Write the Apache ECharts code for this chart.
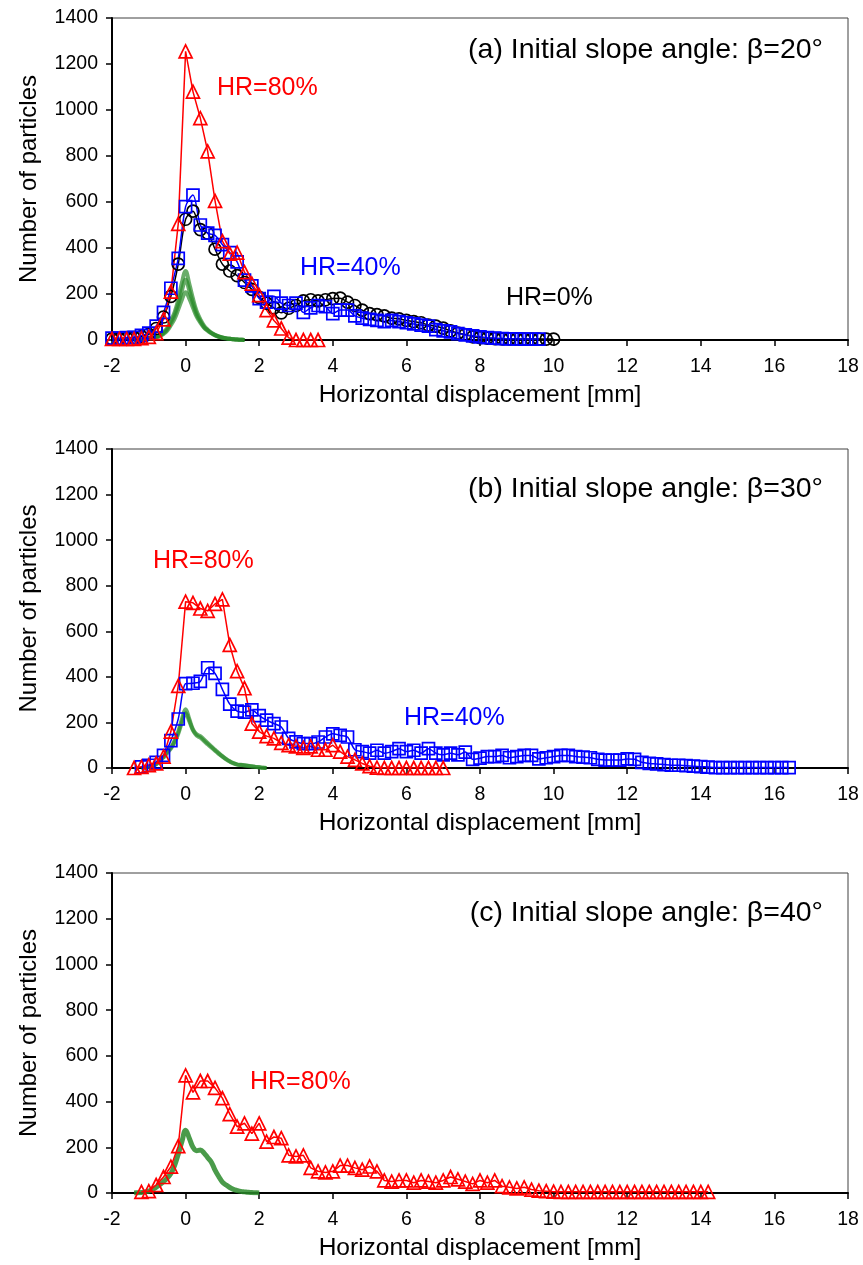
<!DOCTYPE html>
<html><head><meta charset="utf-8">
<script src="https://cdn.jsdelivr.net/npm/echarts@6/dist/echarts.min.js"></script>
<style>html,body{margin:0;padding:0;background:#fff}#c{width:863px;height:1265px}</style>
</head><body><div id="c"></div>
<script>
// ---------- data ----------
const X_MIN = -2, X_MAX = 18, X_INT = 2;
const Y_MIN = 0, Y_MAX = 1400, Y_INT = 200;
const STEP = 0.2;      // marker series spacing [mm]
const GSTEP = 0.1;     // green (simulation) curves spacing [mm]

// (a) beta = 20°
const a_hr80_x0 = -2.0;
const a_hr80 = [5,5,5,5,8,14,30,90,210,505,1255,1080,965,820,605,430,375,380,295,245,195,130,85,50,10,0,0,0,0];
const a_hr40_x0 = -2.0;
const a_hr40 = [8,8,10,12,20,30, 60,120,225,355,580,630, 500,465,455,415,380,340, 260,235,180,165,190,160,
                150,160,120,140,150,145, 115,130,130,105,95,90, 85,80,85,80,75,70, 65,60,45,40,35,28,
                22,18,14,10,8,6, 5,5,4,4,4];
const a_hr0_x0 = -2.0;
const a_hr0 = [5,5,8,10,15,25, 50,100,190,330,525,560, 480,465,395,330,300,280, 250,220,185,160,140,118,
               138,150,170,175,170,175, 180,182,165,150,130,115, 110,105,95,92,85,80, 75,65,60,52,40,30,
               24,14,10,8,6,5, 5,5,4,4,4,4, 4];
const a_green_x0 = -1.4;
const a_green1 = [0,1,2,4,6,10,15,22,34,52, 85,120,175,250,300,245,180,125,90,62, 45,32,23,16,11,8,5,3,2,1, 0];
const a_green2 = [0,1,2,3,5,8,13,20,30,46, 75,108,155,215,262,215,160,112,82,57, 42,30,21,15,10,7,5,3,2,1, 0];
const a_green3 = [0,1,2,3,5,7,11,17,26,40, 64,92,132,175,208,180,140,102,76,54, 40,29,20,14,10,7,5,3,2,1, 0];

// (b) beta = 30°
const b_hr80_x0 = -1.4;
const b_hr80 = [0,5,12,20,50,160,360, 730,725,700,690,720,740, 540,425,350,195,160, 140,130,110,100,95,
                88,95,80,80,100, 72,50,36,20,8, 2,0,0,0,0, 0,0,0,0,0];
const b_hr40_x0 = -1.2;
const b_hr40 = [5,12,25,55,120,215, 370,372,380,440,415,345, 280,250,245,255,230,210, 195,180,130,115,107,107,
                114,136,150,143,136,80, 72,65,78,65,72,85, 72,78,65,85,65,58, 65,58,70,38,43,50,
                50,55,45,50,55,55, 40,45,50,55,55,50, 48,45,38,35,35,35, 40,38,25,20,18,15,
                12,12,10,8,6,4, 2,2,2,2,2,2, 2,2,2,2,2];
const b_green_x0 = -1.2;
const b_green1 = [0,2,5,10,18,35,50,72,90,120,160,215, 258,215,170,148,140,125,110,95,80,66, 52,40,30,22,16,14,12,10,8,5, 3,1,0];
const b_green2 = [0,2,5,9,16,31,46,66,85,112,150,200, 240,205,165,142,133,118,104,90,76,62, 50,38,28,20,15,13,11,9,7,5, 3,1,0];

// (c) beta = 40°
const c_hr80_x0 = -1.2;
const c_hr80 = [5,8,35,70,115,205, 515,440,490,490,460,415, 345,290,305,260,305,225, 245,240,165,160,165,110,
                95,90,95,120,120,110, 102,116,95,55,50,55, 55,45,55,50,45,55, 70,60,50,40,55,45,
                55,30,25,20,25,15, 10,8,6,5,5,5, 5,5,5,5,5,5, 5,5,5,5,5,5, 5,5,5,5,5,5];
const c_green_x0 = -1.4;
const c_green = [0,1,2,5,8,15,25,37,50,65,85,120,170,225, 275,240,200,185,188,175,155,135,100,72, 48,35,24,16,11,7,5,3,2,1, 0];

const panelTitles = ['(a) Initial slope angle: \u03b2=20\u00b0', '(b) Initial slope angle: \u03b2=30\u00b0', '(c) Initial slope angle: \u03b2=40\u00b0'];
const xTitle = 'Horizontal displacement [mm]';
const yTitle = 'Number of particles';

// ---------- helpers ----------
function pts(x0, step, ys) { return ys.map((y, i) => [+(x0 + i * step).toFixed(2), y]); }

const FONT = "'Liberation Sans', Arial, sans-serif";
const RED = '#ff0000', BLUE = '#0000ff', BLACK = '#000000', GREEN = '#2a8a2a';

const grids = [
  {left: 112, top: 18, width: 736, height: 322},
  {left: 112, top: 449, width: 736, height: 319},
  {left: 112, top: 873, width: 736, height: 320}
];

function xAx(i) {
  return {
    gridIndex: i, type: 'value', min: X_MIN, max: X_MAX, interval: X_INT,
    name: xTitle, nameLocation: 'middle', nameGap: 43,
    nameTextStyle: {fontFamily: FONT, fontSize: 24.5, color: '#000'},
    axisLine: {show: true, onZero: false, lineStyle: {color: '#000', width: 2}},
    axisTick: {show: true, inside: false, length: 6, lineStyle: {color: '#000', width: 1.5}},
    axisLabel: {fontFamily: FONT, fontSize: 19.5, color: '#000', margin: 17, formatter: v => String(v)},
    splitLine: {show: false}
  };
}
function yAx(i) {
  return {
    gridIndex: i, type: 'value', min: Y_MIN, max: Y_MAX, interval: Y_INT,
    name: yTitle, nameLocation: 'middle', nameGap: 71, nameRotate: 90,
    nameTextStyle: {fontFamily: FONT, fontSize: 24, color: '#000'},
    axisLine: {show: true, onZero: false, lineStyle: {color: '#000', width: 2}},
    axisTick: {show: true, inside: false, length: 6, lineStyle: {color: '#000', width: 1.5}},
    axisLabel: {fontFamily: FONT, fontSize: 19.5, color: '#000', margin: 14, formatter: v => String(v)},
    splitLine: {show: false}
  };
}
function markerSeries(i, data, color, symbol, size, smooth) {
  return {
    type: 'line', xAxisIndex: i, yAxisIndex: i, data: data, smooth: smooth,
    symbol: symbol, symbolSize: size, showSymbol: true,
    lineStyle: {color: color, width: 1.5},
    itemStyle: {color: 'rgba(0,0,0,0)', borderColor: color, borderWidth: 1.7},
    emphasis: {disabled: true}, animation: false
  };
}
function greenSeries(i, data, width, opacity) {
  return {
    type: 'line', xAxisIndex: i, yAxisIndex: i, data: data, smooth: 0.4,
    symbol: 'none', lineStyle: {color: GREEN, width: width, opacity: opacity},
    emphasis: {disabled: true}, animation: false
  };
}

const series = [
  greenSeries(0, pts(a_green_x0, GSTEP, a_green1), 4, 0.7),
  greenSeries(0, pts(a_green_x0, GSTEP, a_green2), 4, 0.7),
  greenSeries(0, pts(a_green_x0, GSTEP, a_green3), 4, 0.7),
  markerSeries(0, pts(a_hr0_x0, STEP, a_hr0), BLACK, 'circle', 12, 0.3),
  markerSeries(0, pts(a_hr40_x0, STEP, a_hr40), BLUE, 'rect', 12, 0.3),
  markerSeries(0, pts(a_hr80_x0, STEP, a_hr80), RED, 'triangle', 13, false),

  greenSeries(1, pts(b_green_x0, GSTEP, b_green1), 4, 0.7),
  greenSeries(1, pts(b_green_x0, GSTEP, b_green2), 4, 0.7),
  markerSeries(1, pts(b_hr40_x0, STEP, b_hr40), BLUE, 'rect', 12, 0.3),
  markerSeries(1, pts(b_hr80_x0, STEP, b_hr80), RED, 'triangle', 13, false),

  greenSeries(2, pts(c_green_x0, GSTEP, c_green), 5, 0.85),
  markerSeries(2, pts(c_hr80_x0, STEP, c_hr80), RED, 'triangle', 13, false)
];

function txt(x, y, text, color, size, align) {
  return {type: 'text', x: x, y: y, z: 100,
    style: {text: text, fill: color, font: size + 'px ' + FONT, align: align || 'left', verticalAlign: 'middle'}};
}
const graphic = [
  txt(823, 50, panelTitles[0], '#000', 28.5, 'right'),
  txt(823, 489, panelTitles[1], '#000', 28.5, 'right'),
  txt(823, 913, panelTitles[2], '#000', 28.5, 'right'),
  txt(217, 88, 'HR=80%', RED, 25),
  txt(300, 268, 'HR=40%', BLUE, 25),
  txt(506, 298, 'HR=0%', BLACK, 25),
  txt(153, 561, 'HR=80%', RED, 25),
  txt(404, 718, 'HR=40%', BLUE, 25),
  txt(250, 1082, 'HR=80%', RED, 25)
];

const chart = echarts.init(document.getElementById('c'), null, {renderer: 'canvas'});
chart.setOption({
  animation: false,
  backgroundColor: '#fff',
  grid: grids.map(g => Object.assign({show: true, borderColor: '#404040', borderWidth: 1, backgroundColor: 'transparent'}, g)),
  xAxis: [0,1,2].map(xAx),
  yAxis: [0,1,2].map(yAx),
  series: series,
  graphic: graphic
});
</script></body></html>
